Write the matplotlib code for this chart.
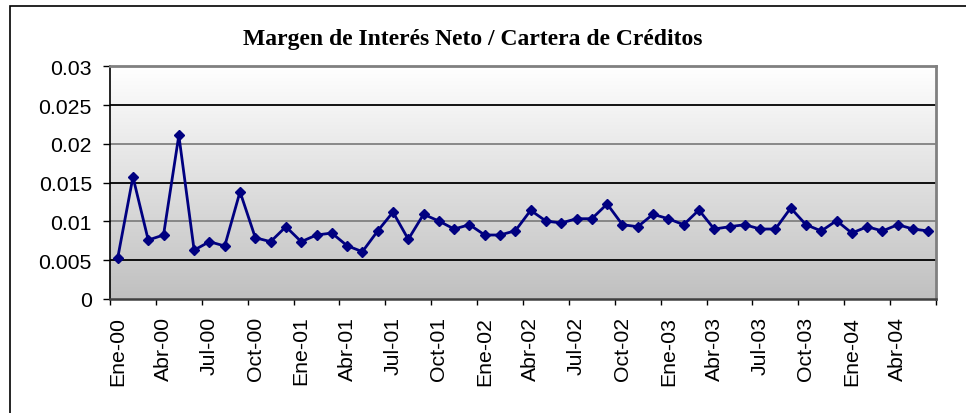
#!/usr/bin/env python3
"""Margen de Interés Neto / Cartera de Créditos, monthly line chart."""

import matplotlib
matplotlib.use("Agg")
import matplotlib.pyplot as plt
import numpy as np
from matplotlib.colors import LinearSegmentedColormap
from matplotlib.patches import Rectangle

# monthly values, Ene-00 .. Jun-04
months = ["Ene", "Feb", "Mar", "Abr", "May", "Jun", "Jul", "Ago", "Sep", "Oct", "Nov", "Dic"]
years = ["00", "01", "02", "03", "04"]
periods = [f"{m}-{y}" for y in years for m in months][:54]

margin = [
    0.00525, 0.01573, 0.0076, 0.00825, 0.0211, 0.0063, 0.00739, 0.00683, 0.01383, 0.0079,
    0.00739, 0.00932, 0.00739, 0.00825, 0.0085, 0.00687, 0.0061, 0.00877, 0.0112, 0.0077,
    0.01092, 0.01005, 0.00902, 0.00958, 0.00825, 0.00825, 0.0088, 0.01143, 0.01005, 0.0098,
    0.01035, 0.01035, 0.01225, 0.00958, 0.00932, 0.01092, 0.01035, 0.00958, 0.01147, 0.00902,
    0.00932, 0.00958, 0.00902, 0.00902, 0.01173, 0.00958, 0.00877, 0.0101, 0.0085, 0.00932,
    0.00877, 0.00958, 0.00902, 0.00877,
]

y_ticks = [0, 0.005, 0.01, 0.015, 0.02, 0.025, 0.03]
y_tick_labels = ["0", "0.005", "0.01", "0.015", "0.02", "0.025", "0.03"]

W, H = 966, 414
fig = plt.figure(figsize=(W / 100, H / 100), dpi=100)
fig.patch.set_facecolor("white")

left, right, top, bottom = 110, 936, 67.3, 300
ax = fig.add_axes([left / W, 1 - bottom / H, (right - left) / W, (bottom - top) / H])

x = np.arange(len(margin))
n = len(margin)

# background gradient white -> silver
cmap = LinearSegmentedColormap.from_list("bg", ["#c0c0c0", "#ffffff"])
grad = np.linspace(0, 1, 256).reshape(-1, 1)
ax.imshow(grad, cmap=cmap, origin="lower", aspect="auto",
          extent=(-0.5, n - 0.5, 0, 0.03), zorder=0)

# gridlines alternate black / gray
for i, yv in enumerate(y_ticks[1:-1]):
    ax.axhline(yv, color="black" if i % 2 == 0 else "#808080", lw=1.3, zorder=1)

ax.plot(x, margin, color="#000080", lw=2, marker="D", markersize=5.5, zorder=3)

ax.set_xlim(-0.5, n - 0.5)
ax.set_ylim(0, 0.03)

ax.set_yticks(y_ticks)
ax.set_yticklabels(y_tick_labels)
ax.set_xticks(np.arange(-0.5, n, 3))
ax.set_xticklabels([])
ax.set_xticks(x[::3], minor=True)
ax.set_xticklabels(periods[::3], minor=True, rotation=90)
ax.tick_params(axis="x", which="minor", length=0, pad=12)
ax.tick_params(axis="x", which="major", length=4, width=1, direction="out")
ax.tick_params(axis="y", length=5, width=1, direction="out", pad=8)
for lab in ax.get_xticklabels(minor=True) + ax.get_yticklabels():
    lab.set_fontfamily("Liberation Sans")
    lab.set_fontsize(15.3)

ax.spines["left"].set_color("black")
ax.spines["left"].set_linewidth(1.2)
ax.spines["bottom"].set_color("#404040")
ax.spines["bottom"].set_linewidth(1.8)
for s in ("top", "right"):
    ax.spines[s].set_color("#808080")
    ax.spines[s].set_linewidth(2)

fig.text(473 / W, 1 - 39 / H, "Margen de Interés Neto / Cartera de Créditos",
         ha="center", va="center", fontfamily="Liberation Serif",
         fontweight="bold", fontsize=17)

# outer chart frame, cut off by the image edges on right and bottom
fig.patches.append(Rectangle((10 / W, -0.2), 1.2, 1.2 - 7 / H,
                             transform=fig.transFigure, fill=False,
                             edgecolor="black", lw=1.2, zorder=0))

fig.savefig("out.png", dpi=100)
